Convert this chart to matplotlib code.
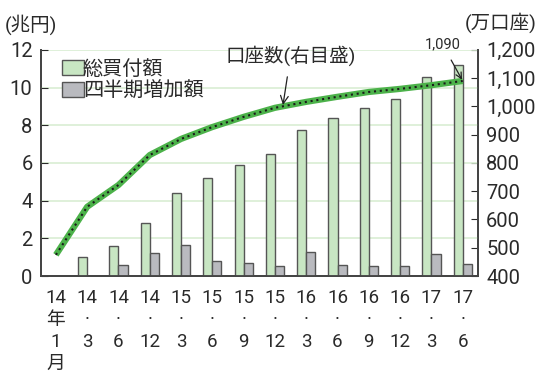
import matplotlib.pyplot as plt
import numpy as np

# 総買付額・四半期増加額 (兆円) と口座数 (万口座)
periods = ["14\n年\n1\n月", "14\n·\n3", "14\n·\n6", "14\n·\n12",
           "15\n·\n3", "15\n·\n6", "15\n·\n9", "15\n·\n12",
           "16\n·\n3", "16\n·\n6", "16\n·\n9", "16\n·\n12",
           "17\n·\n3", "17\n·\n6"]
total_buy = [0, 1.0, 1.6, 2.8, 4.4, 5.2, 5.9, 6.45, 7.75, 8.4, 8.9, 9.4, 10.55, 11.2]
quarter_inc = [0, 0, 0.6, 1.2, 1.65, 0.8, 0.7, 0.55, 1.3, 0.6, 0.55, 0.55, 1.15, 0.65]
accounts = [475, 645, 722, 828, 885, 927, 963, 995, 1016, 1034, 1051, 1062, 1075, 1090]

plt.rcParams["font.family"] = ["Roboto", "Noto Sans CJK JP", "DejaVu Sans"]
txt = "#2a2a2a"

fig = plt.figure(figsize=(5.38, 3.72), dpi=100)
ax = fig.add_axes([0.076, 0.258, 0.812, 0.608])
ax2 = ax.twinx()

x = np.arange(len(periods))
w = 0.29
green = "#c8e6c3"
gray = "#b9babf"
edge = "#555555"

ax.set_zorder(1)
ax.patch.set_visible(False)
ax2.set_zorder(0)

for v in range(2, 13, 2):
    ax.axhline(v, color="#d9eed3", lw=1.2, zorder=0)

ax.bar(x - w / 2, total_buy, w, color=green, edgecolor=edge, lw=1, zorder=2, label="総買付額")
ax.bar(x + w / 2, quarter_inc, w, color=gray, edgecolor=edge, lw=1, zorder=2, label="四半期増加額")

# 口座数の折れ線 (右目盛)
acc_y = [(a - 400) / 800 * 12 for a in accounts]
ax.plot(x, acc_y, color="#4cb24a", lw=4.5, solid_capstyle="butt", zorder=3)
ax.plot(x, acc_y, color="#1a1a1a", lw=1.5, linestyle=(0, (1, 1.8)), zorder=4)

ax.set_xlim(-0.48, 13.48)
ax.set_ylim(0, 12)
ax.set_yticks(range(0, 13, 2))
ax.set_xticks(x)
ax.set_xticklabels(periods, fontsize=13.5, color=txt, linespacing=1.3, va="top")
ax.tick_params(axis="x", length=0, pad=9)
ax.tick_params(axis="y", direction="in", length=5, labelsize=14.5, colors=txt, pad=6)

ax2.set_ylim(400, 1200)
ax2.set_yticks(range(400, 1201, 100))
ax2.set_yticklabels([f"{v:,}" for v in range(400, 1201, 100)])
ax2.tick_params(axis="y", direction="in", length=5, labelsize=14.5, colors=txt, pad=6)

for a in (ax, ax2):
    a.spines["top"].set_visible(False)
    for s in ("left", "right", "bottom"):
        a.spines[s].set_color("#444444")
        a.spines[s].set_linewidth(1.3)

leg = ax.legend(loc="upper left", bbox_to_anchor=(0.02, 1.01), frameon=False,
                fontsize=14.5, handlelength=0.8, handleheight=0.8, handletextpad=0.25,
                labelspacing=0.15, borderaxespad=0.2, labelcolor=txt)
for h in leg.legend_handles:
    h.set_width(16)

fig.text(0.008, 0.935, "(兆円)", fontsize=14, color=txt, ha="left", va="center")
fig.text(0.997, 0.94, "(万口座)", fontsize=14, color=txt, ha="right", va="center")

ax.annotate("口座数(右目盛)", xy=(7.25, (1000 - 400) / 800 * 12), xytext=(7.5, 11.7),
            fontsize=14, color=txt, ha="center", va="center",
            arrowprops=dict(arrowstyle="->", color="#222222", lw=0.9, shrinkA=6, shrinkB=1))
ax.annotate(f"{accounts[-1]:,}", xy=(13, acc_y[-1]), xytext=(12.35, 12.3),
            fontsize=10.5, color=txt, ha="center", va="center", annotation_clip=False,
            arrowprops=dict(arrowstyle="->", color="#222222", lw=0.9, shrinkA=5, shrinkB=1))

fig.savefig("out.png", dpi=100)
